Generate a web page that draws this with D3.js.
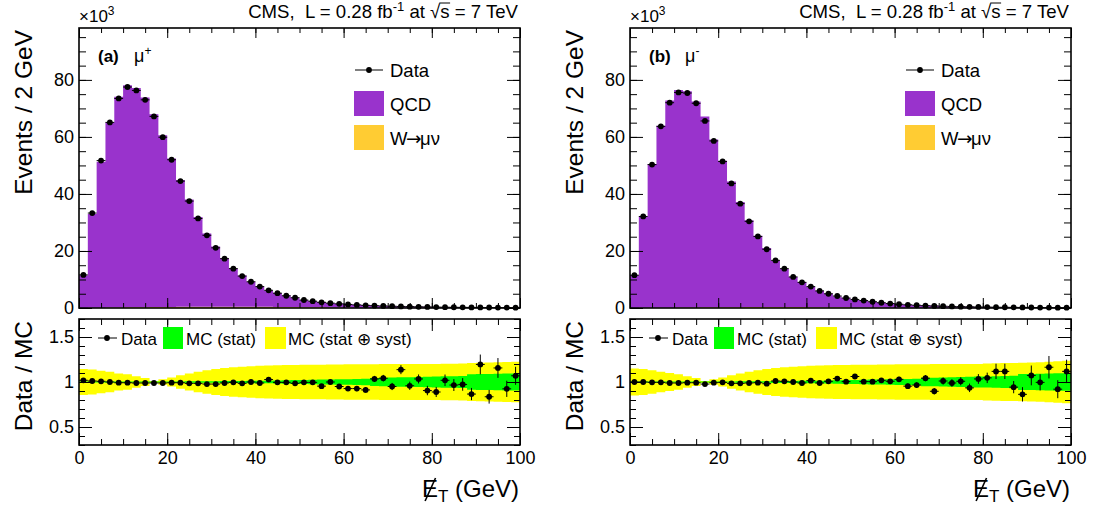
<!DOCTYPE html>
<html>
<head>
<meta charset="utf-8">
<script src="https://cdn.jsdelivr.net/npm/d3@7"></script>
<style>
  body { margin: 0; background: #fff; }
  text { white-space: pre; }
</style>
</head>
<body>
<div id="chart"></div>
<script>
const width = 1095;
const height = 510;
const font = '"Liberation Sans", Arial, Helvetica, sans-serif';

// 2 GeV bins, lower edges 0..98
const binEdges = d3.range(0, 100, 2);
const xTicks = [0, 20, 40, 60, 80, 100];
const yTicksTop = [0, 20, 40, 60, 80];
const yTicksRatio = [0.5, 1, 1.5];

// ---- mu+ (events in thousands per bin) ----
const dataPlus = [11.6, 33.3, 51.7, 65.1, 73.5, 77.5, 76.3, 73.0, 67.2, 59.9,
  52.0, 44.5, 37.5, 31.4, 25.5, 21.1, 17.3, 13.8, 11.2, 9.2,
  7.5, 6.2, 5.2, 4.3, 3.6, 2.8, 2.4, 2.0, 1.7, 1.45,
  1.25, 1.08, 0.94, 0.82, 0.72, 0.63, 0.55, 0.48, 0.42, 0.37,
  0.33, 0.29, 0.26, 0.23, 0.21, 0.19, 0.17, 0.15, 0.14, 0.13];
const qcdPlus = [11.36, 32.88, 51.19, 64.96, 73.91, 77.91, 76.89, 73.52, 67.63, 60.22,
  52.04, 44.46, 37.65, 31.44, 25.65, 21.14, 17.03, 13.4, 10.92, 8.76,
  7.16, 5.64, 4.85, 3.98, 3.34, 2.53, 2.16, 1.88, 1.51, 1.36,
  1.2, 1.035, 0.92, 0.693, 0.601, 0.583, 0.414, 0.441, 0.351, 0.359,
  0.326, 0.245, 0.234, 0.206, 0.214, 0.133, 0.179, 0.108, 0.132, 0.104];
const wPlus = [0.02, 0.06, 0.1, 0.14, 0.18, 0.22, 0.26, 0.29, 0.32, 0.35,
  0.38, 0.4, 0.42, 0.44, 0.45, 0.46, 0.46, 0.46, 0.45, 0.44,
  0.42, 0.4, 0.37, 0.34, 0.31, 0.28, 0.25, 0.22, 0.19, 0.17,
  0.15, 0.13, 0.11, 0.1, 0.09, 0.08, 0.07, 0.06, 0.055, 0.05,
  0.045, 0.04, 0.035, 0.03, 0.028, 0.026, 0.024, 0.022, 0.02, 0.018];
const ratioPlus = [1.019, 1.011, 1.008, 1.0, 0.992, 0.992, 0.989, 0.989, 0.989, 0.989,
  0.992, 0.992, 0.985, 0.985, 0.977, 0.977, 0.989, 0.996, 0.985, 1.0,
  0.989, 1.027, 0.996, 0.996, 0.985, 0.996, 0.996, 0.954, 1.0, 0.95,
  0.927, 0.927, 0.912, 1.034, 1.042, 0.95, 1.137, 0.958, 1.034, 0.905,
  0.889, 1.019, 0.966, 0.973, 0.866, 1.195, 0.836, 1.156, 0.924, 1.069];
const ratioErrPlus = [0.004, 0.003, 0.003, 0.003, 0.003, 0.003, 0.003, 0.003, 0.003, 0.003,
  0.003, 0.004, 0.004, 0.004, 0.005, 0.005, 0.006, 0.007, 0.008, 0.009,
  0.01, 0.011, 0.012, 0.013, 0.015, 0.017, 0.019, 0.021, 0.023, 0.025,
  0.027, 0.029, 0.031, 0.034, 0.037, 0.04, 0.05, 0.046, 0.05, 0.052,
  0.056, 0.064, 0.066, 0.07, 0.068, 0.11, 0.076, 0.11, 0.09, 0.1];
const statPlus = [0.006, 0.005, 0.005, 0.005, 0.005, 0.005, 0.005, 0.005, 0.005, 0.006,
  0.006, 0.006, 0.007, 0.007, 0.008, 0.009, 0.01, 0.011, 0.012, 0.013,
  0.014, 0.015, 0.017, 0.019, 0.021, 0.023, 0.025, 0.027, 0.029, 0.03,
  0.031, 0.033, 0.035, 0.045, 0.047, 0.05, 0.052, 0.054, 0.055, 0.057,
  0.06, 0.063, 0.065, 0.068, 0.085, 0.088, 0.09, 0.092, 0.094, 0.095];
const systPlus = [0.145, 0.14, 0.125, 0.115, 0.095, 0.085, 0.065, 0.045, 0.012, 0.03,
  0.05, 0.075, 0.095, 0.115, 0.13, 0.145, 0.155, 0.163, 0.17, 0.175,
  0.18, 0.183, 0.186, 0.188, 0.19, 0.191, 0.192, 0.193, 0.194, 0.195,
  0.196, 0.197, 0.198, 0.198, 0.199, 0.2, 0.2, 0.2, 0.2, 0.2,
  0.2, 0.202, 0.204, 0.206, 0.21, 0.214, 0.218, 0.22, 0.222, 0.224];

// ---- mu- ----
const dataMinus = [11.5, 32.1, 50.3, 63.7, 72.0, 75.6, 75.4, 71.8, 65.6, 58.6,
  51.4, 43.7, 36.6, 30.4, 25.1, 20.6, 16.7, 13.8, 10.9, 9.0,
  7.5, 6.0, 5.0, 4.2, 3.5, 3.0, 2.6, 2.2, 1.85, 1.55,
  1.32, 1.12, 0.96, 0.83, 0.72, 0.63, 0.55, 0.48, 0.42, 0.37,
  0.33, 0.29, 0.26, 0.23, 0.2, 0.18, 0.16, 0.15, 0.13, 0.12];
const qcdMinus = [11.49, 32.06, 50.43, 63.86, 72.67, 76.28, 75.82, 72.17, 66.91, 58.82,
  51.34, 44.08, 36.86, 30.43, 24.98, 20.67, 16.19, 13.36, 10.58, 8.79,
  7.09, 5.79, 4.7, 3.81, 3.27, 2.63, 2.41, 2.03, 1.675, 1.418,
  1.172, 1.079, 0.914, 0.727, 0.738, 0.563, 0.506, 0.431, 0.409, 0.322,
  0.283, 0.231, 0.208, 0.222, 0.212, 0.15, 0.144, 0.113, 0.126, 0.094];
const wMinus = [0.015, 0.045, 0.075, 0.1, 0.13, 0.16, 0.19, 0.21, 0.23, 0.25,
  0.27, 0.29, 0.3, 0.31, 0.32, 0.33, 0.33, 0.33, 0.32, 0.31,
  0.3, 0.28, 0.26, 0.24, 0.22, 0.2, 0.18, 0.16, 0.14, 0.12,
  0.11, 0.095, 0.08, 0.07, 0.065, 0.06, 0.05, 0.045, 0.04, 0.036,
  0.032, 0.028, 0.025, 0.022, 0.02, 0.018, 0.017, 0.016, 0.015, 0.013];
const ratioMinus = [1.0, 1.0, 0.996, 0.996, 0.989, 0.989, 0.992, 0.992, 0.977, 0.992,
  0.996, 0.985, 0.985, 0.989, 0.992, 0.981, 1.011, 1.008, 1.0, 0.989,
  1.015, 0.989, 1.008, 1.038, 1.004, 1.061, 1.004, 1.004, 1.019, 1.008,
  1.03, 0.954, 0.966, 1.042, 0.897, 1.011, 0.989, 1.008, 0.935, 1.034,
  1.046, 1.118, 1.118, 0.943, 0.863, 1.073, 0.996, 1.164, 0.92, 1.118];
const ratioErrMinus = [0.004, 0.003, 0.003, 0.003, 0.003, 0.003, 0.003, 0.003, 0.003, 0.003,
  0.003, 0.004, 0.004, 0.004, 0.005, 0.005, 0.006, 0.007, 0.008, 0.009,
  0.01, 0.011, 0.012, 0.014, 0.015, 0.018, 0.019, 0.021, 0.023, 0.025,
  0.028, 0.029, 0.031, 0.035, 0.035, 0.04, 0.042, 0.045, 0.047, 0.054,
  0.058, 0.085, 0.085, 0.068, 0.08, 0.11, 0.09, 0.125, 0.1, 0.13];
const statMinus = [0.006, 0.005, 0.005, 0.005, 0.005, 0.005, 0.005, 0.005, 0.005, 0.006,
  0.006, 0.006, 0.007, 0.007, 0.008, 0.009, 0.01, 0.011, 0.012, 0.013,
  0.014, 0.015, 0.017, 0.019, 0.021, 0.023, 0.025, 0.027, 0.029, 0.03,
  0.032, 0.034, 0.036, 0.046, 0.048, 0.05, 0.052, 0.055, 0.057, 0.06,
  0.062, 0.065, 0.068, 0.07, 0.088, 0.09, 0.092, 0.094, 0.096, 0.098];
const systMinus = [0.15, 0.145, 0.13, 0.115, 0.1, 0.085, 0.065, 0.045, 0.012, 0.03,
  0.05, 0.075, 0.095, 0.115, 0.13, 0.145, 0.155, 0.163, 0.17, 0.175,
  0.18, 0.183, 0.186, 0.188, 0.19, 0.191, 0.192, 0.193, 0.194, 0.195,
  0.196, 0.197, 0.198, 0.198, 0.199, 0.2, 0.2, 0.2, 0.2, 0.2,
  0.205, 0.207, 0.21, 0.212, 0.215, 0.218, 0.22, 0.225, 0.23, 0.235];

const panels = [
  {left: 79, right: 520, tag: '(a)', charge: '+', data: dataPlus, qcd: qcdPlus, w: wPlus,
   ratio: ratioPlus, rerr: ratioErrPlus, stat: statPlus, syst: systPlus},
  {left: 630, right: 1071, tag: '(b)', charge: '-', data: dataMinus, qcd: qcdMinus, w: wMinus,
   ratio: ratioMinus, rerr: ratioErrMinus, stat: statMinus, syst: systMinus}
];

const colQCD = '#9933cc';
const colW = '#ffcc33';
const colStat = '#00ff00';
const colSyst = '#ffff00';

const topPad = {y0: 28, y1: 308};
const ratioPad = {y0: 319, y1: 445};

const svg = d3.select('#chart').append('svg')
  .attr('width', width).attr('height', height)
  .style('font-family', font);

function tickAxis(g, axis, size, format) {
  g.call(axis.tickSize(size).tickFormat(format === undefined ? '' : format))
    .call(g => g.select('.domain').remove())
    .call(g => g.selectAll('line').attr('stroke', '#000').attr('stroke-width', 1));
  return g;
}

function drawPanel(p, idx) {
  const x = d3.scaleLinear().domain([0, 100]).range([p.left, p.right]);
  const y = d3.scaleLinear().domain([0, 98.2]).range([topPad.y1, topPad.y0]);
  const yr = d3.scaleLinear().domain([0.3, 1.7]).range([ratioPad.y1, ratioPad.y0]);

  const bins = binEdges.map((lo, i) => ({
    lo: lo, hi: lo + 2, data: p.data[i], qcd: p.qcd[i], w: p.w[i],
    ratio: p.ratio[i], err: p.rerr[i], stat: p.stat[i], syst: p.syst[i]
  }));
  const steps = bins.concat([Object.assign({}, bins[bins.length - 1], {lo: 100})]);

  // ---------- upper pad ----------
  svg.append('path').datum(steps)
    .attr('fill', colW)
    .attr('d', d3.area().curve(d3.curveStepAfter)
      .x(d => x(d.lo)).y0(y(0)).y1(d => y(d.w)));
  svg.append('path').datum(steps)
    .attr('fill', colQCD)
    .attr('d', d3.area().curve(d3.curveStepAfter)
      .x(d => x(d.lo)).y0(d => y(d.w)).y1(d => y(d.w + d.qcd)));

  const pts = svg.append('g');
  pts.selectAll('line').data(bins).join('line')
    .attr('x1', d => x(d.lo)).attr('x2', d => x(d.hi))
    .attr('y1', d => y(d.data)).attr('y2', d => y(d.data))
    .attr('stroke', '#000').attr('stroke-width', 1);
  pts.selectAll('circle').data(bins).join('circle')
    .attr('cx', d => x(d.lo + 1)).attr('cy', d => y(d.data))
    .attr('r', 2.9).attr('fill', '#000');

  // ticks upper pad
  tickAxis(svg.append('g').attr('transform', `translate(0,${topPad.y1})`),
    d3.axisBottom(x).tickValues(xTicks), -10);
  tickAxis(svg.append('g').attr('transform', `translate(0,${topPad.y1})`),
    d3.axisBottom(x).tickValues(d3.range(0, 101, 5)), -5);
  tickAxis(svg.append('g').attr('transform', `translate(0,${topPad.y0})`),
    d3.axisTop(x).tickValues(xTicks), -10);
  tickAxis(svg.append('g').attr('transform', `translate(0,${topPad.y0})`),
    d3.axisTop(x).tickValues(d3.range(0, 101, 5)), -5);
  tickAxis(svg.append('g').attr('transform', `translate(${p.right},0)`),
    d3.axisRight(y).tickValues(yTicksTop), -13);
  tickAxis(svg.append('g').attr('transform', `translate(${p.right},0)`),
    d3.axisRight(y).tickValues(d3.range(0, 98, 5)), -7);
  tickAxis(svg.append('g').attr('transform', `translate(${p.left},0)`),
    d3.axisLeft(y).tickValues(d3.range(0, 98, 5)), -7);
  tickAxis(svg.append('g').attr('transform', `translate(${p.left},0)`),
    d3.axisLeft(y).tickValues(yTicksTop).tickPadding(5), -13, d3.format('d'))
    .call(g => g.selectAll('text').attr('font-size', 18).attr('font-family', font).attr('fill', '#000'));

  svg.append('rect')
    .attr('x', p.left).attr('y', topPad.y0)
    .attr('width', p.right - p.left).attr('height', topPad.y1 - topPad.y0)
    .attr('fill', 'none').attr('stroke', '#000').attr('stroke-width', 1.6);

  // x10^3
  const mult = svg.append('text').attr('x', p.left).attr('y', 22).attr('font-size', 17);
  mult.append('tspan').text('\u00d710');
  mult.append('tspan').attr('dy', -7).attr('font-size', 12).text('3');

  // panel tag
  svg.append('text').attr('x', p.left + 19).attr('y', 62)
    .attr('font-size', 17).attr('font-weight', 'bold').text(p.tag);
  const mu = svg.append('text').attr('x', p.left + 55).attr('y', 62).attr('font-size', 18);
  mu.append('tspan').text('\u03bc');
  mu.append('tspan').attr('dy', -7).attr('font-size', 12).text(p.charge);

  // title
  const tSize = 18.6;
  const title = svg.append('text').attr('x', p.right - 2).attr('y', 18)
    .attr('text-anchor', 'end').attr('font-size', tSize);
  title.append('tspan').text('CMS,  L = 0.28 fb');
  title.append('tspan').attr('dy', -7).attr('font-size', 13).text('-1');
  title.append('tspan').attr('dy', 7).text(' at ');
  title.append('tspan').text('\u221a');
  const sPart = title.append('tspan').text('s');
  title.append('tspan').text(' = 7 TeV');
  const sExt = sPart.node().getExtentOfChar(0);
  svg.append('line')
    .attr('x1', sExt.x - 1).attr('x2', sExt.x + sExt.width + 0.5)
    .attr('y1', 18 - 15).attr('y2', 18 - 15)
    .attr('stroke', '#000').attr('stroke-width', 1);

  // upper legend
  const lx = p.left + 275;
  svg.append('line').attr('x1', lx + 1).attr('x2', lx + 29).attr('y1', 70).attr('y2', 70)
    .attr('stroke', '#000').attr('stroke-width', 1);
  svg.append('circle').attr('cx', lx + 15).attr('cy', 70).attr('r', 2.9).attr('fill', '#000');
  svg.append('rect').attr('x', lx).attr('y', 91).attr('width', 30).attr('height', 25).attr('fill', colQCD);
  svg.append('rect').attr('x', lx).attr('y', 125).attr('width', 30).attr('height', 25).attr('fill', colW);
  svg.append('text').attr('x', lx + 36).attr('y', 77).attr('font-size', 18.5).text('Data');
  svg.append('text').attr('x', lx + 36).attr('y', 111).attr('font-size', 18.5).text('QCD');
  const wl = svg.append('text').attr('x', lx + 36).attr('y', 145).attr('font-size', 18.5);
  wl.append('tspan').text('W');
  wl.append('tspan').attr('dx', -1.5).attr('font-family', '"DejaVu Sans", sans-serif').text('\u2192');
  wl.append('tspan').attr('dx', -1.5).text('\u03bc\u03bd');

  // y title upper
  svg.append('text')
    .attr('transform', `translate(${p.left - 47},${topPad.y0 + 2}) rotate(-90)`)
    .attr('text-anchor', 'end').attr('font-size', 24.5).text('Events / 2 GeV');

  // ---------- ratio pad ----------
  const clipId = 'clip' + idx;
  svg.append('clipPath').attr('id', clipId).append('rect')
    .attr('x', p.left).attr('y', ratioPad.y0)
    .attr('width', p.right - p.left).attr('height', ratioPad.y1 - ratioPad.y0);
  const rg = svg.append('g').attr('clip-path', `url(#${clipId})`);

  rg.append('path').datum(steps).attr('fill', colSyst)
    .attr('d', d3.area().curve(d3.curveStepAfter)
      .x(d => x(d.lo)).y0(d => yr(1 - d.syst)).y1(d => yr(1 + d.syst)));
  rg.append('path').datum(steps).attr('fill', colStat)
    .attr('d', d3.area().curve(d3.curveStepAfter)
      .x(d => x(d.lo)).y0(d => yr(1 - d.stat)).y1(d => yr(1 + d.stat)));

  rg.selectAll('line.h').data(bins).join('line').attr('class', 'h')
    .attr('x1', d => x(d.lo)).attr('x2', d => x(d.hi))
    .attr('y1', d => yr(d.ratio)).attr('y2', d => yr(d.ratio))
    .attr('stroke', '#000').attr('stroke-width', 1);
  rg.selectAll('line.v').data(bins).join('line').attr('class', 'v')
    .attr('x1', d => x(d.lo + 1)).attr('x2', d => x(d.lo + 1))
    .attr('y1', d => yr(d.ratio - d.err)).attr('y2', d => yr(d.ratio + d.err))
    .attr('stroke', '#000').attr('stroke-width', 1);
  rg.selectAll('circle').data(bins).join('circle')
    .attr('cx', d => x(d.lo + 1)).attr('cy', d => yr(d.ratio))
    .attr('r', 2.9).attr('fill', '#000');

  // ratio ticks
  tickAxis(svg.append('g').attr('transform', `translate(0,${ratioPad.y1})`),
    d3.axisBottom(x).tickValues(d3.range(0, 101, 5)), -6);
  tickAxis(svg.append('g').attr('transform', `translate(0,${ratioPad.y1})`),
    d3.axisBottom(x).tickValues(xTicks).tickPadding(6), -12, d3.format('d'))
    .call(g => g.selectAll('text').attr('font-size', 18).attr('font-family', font).attr('fill', '#000'));
  tickAxis(svg.append('g').attr('transform', `translate(0,${ratioPad.y0})`),
    d3.axisTop(x).tickValues(xTicks), -12);
  tickAxis(svg.append('g').attr('transform', `translate(0,${ratioPad.y0})`),
    d3.axisTop(x).tickValues(d3.range(0, 101, 5)), -6);
  const minorR = d3.range(3, 18).map(v => v / 10);
  tickAxis(svg.append('g').attr('transform', `translate(${p.left},0)`),
    d3.axisLeft(yr).tickValues(minorR), -6);
  tickAxis(svg.append('g').attr('transform', `translate(${p.right},0)`),
    d3.axisRight(yr).tickValues(minorR), -6);
  tickAxis(svg.append('g').attr('transform', `translate(${p.right},0)`),
    d3.axisRight(yr).tickValues(yTicksRatio), -13);
  tickAxis(svg.append('g').attr('transform', `translate(${p.left},0)`),
    d3.axisLeft(yr).tickValues(yTicksRatio).tickPadding(5), -13, d3.format('~g'))
    .call(g => g.selectAll('text').attr('font-size', 18).attr('font-family', font).attr('fill', '#000'));

  svg.append('rect')
    .attr('x', p.left).attr('y', ratioPad.y0)
    .attr('width', p.right - p.left).attr('height', ratioPad.y1 - ratioPad.y0)
    .attr('fill', 'none').attr('stroke', '#000').attr('stroke-width', 1.6);

  // ratio legend
  const ry = 338;
  svg.append('line').attr('x1', p.left + 19).attr('x2', p.left + 38).attr('y1', ry).attr('y2', ry)
    .attr('stroke', '#000').attr('stroke-width', 1);
  svg.append('circle').attr('cx', p.left + 28).attr('cy', ry).attr('r', 2.9).attr('fill', '#000');
  svg.append('text').attr('x', p.left + 42).attr('y', 345).attr('font-size', 17).text('Data');
  svg.append('rect').attr('x', p.left + 84).attr('y', 327).attr('width', 20).attr('height', 22).attr('fill', colStat);
  svg.append('text').attr('x', p.left + 107).attr('y', 345).attr('font-size', 17).text('MC (stat)');
  svg.append('rect').attr('x', p.left + 186).attr('y', 327).attr('width', 21).attr('height', 22).attr('fill', colSyst);
  svg.append('text').attr('x', p.left + 209).attr('y', 345).attr('font-size', 17).text('MC (stat \u2295 syst)');

  // y title ratio
  svg.append('text')
    .attr('transform', `translate(${p.left - 47},${ratioPad.y0 + 2}) rotate(-90)`)
    .attr('text-anchor', 'end').attr('font-size', 24.5).text('Data / MC');

  // x title: slashed E_T
  const xt = svg.append('text').attr('x', p.right - 1).attr('y', 497)
    .attr('text-anchor', 'end').attr('font-size', 24);
  const eChar = xt.append('tspan').text('E');
  xt.append('tspan').attr('dy', 5).attr('font-size', 17).text('T');
  xt.append('tspan').attr('dy', -5).text(' (GeV)');
  const eExt = eChar.node().getExtentOfChar(0);
  svg.append('line')
    .attr('x1', eExt.x + eExt.width * 0.2).attr('y1', 497 + 4)
    .attr('x2', eExt.x + eExt.width * 0.85).attr('y2', 497 - 19)
    .attr('stroke', '#000').attr('stroke-width', 1.6);
}

panels.forEach(drawPanel);
</script>
</body>
</html>
